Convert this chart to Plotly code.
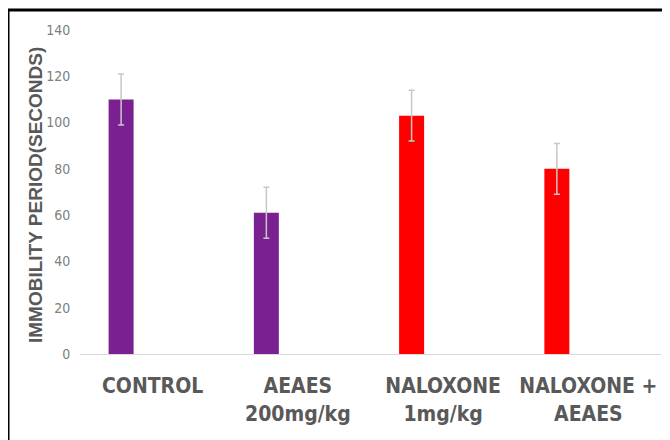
import plotly.graph_objects as go

categories = ["CONTROL", "AEAES<br>200mg/kg", "NALOXONE<br>1mg/kg", "NALOXONE +<br>AEAES"]
immobility = [110, 61, 103, 80]
errors = [11, 11, 11, 11]
bar_colors = ["#7B2090", "#7B2090", "#FF0000", "#FF0000"]
y_ticks = [0, 20, 40, 60, 80, 100, 120, 140]

W, H = 670, 440
OFF = 8  # page body margin offset
# target pixel positions in the screenshot
PL, PR, PT, PB = 80, 661, 30, 354
L, T = PL - OFF, PT - OFF
R = W - (PR - OFF)
B = H - (PB - OFF)
pw, ph = W - L - R, H - T - B

def px_x(p):
    return (p - OFF - L) / pw

def px_y(p):
    return (H - B - (p - OFF)) / ph

COND = "DejaVu Sans Condensed, Liberation Sans Narrow, Arial Narrow, sans-serif"

fig = go.Figure()
fig.add_trace(go.Bar(
    x=categories, y=immobility,
    marker=dict(color=bar_colors, line=dict(width=0)),
    width=0.172, offset=-0.303,
    error_y=dict(type="data", array=errors, visible=True,
                 color="#C8C8C8", thickness=1.5, width=3),
    showlegend=False,
))

fig.update_layout(
    width=W, height=H,
    margin=dict(l=L, r=R, t=T, b=B),
    paper_bgcolor="white", plot_bgcolor="white",
    xaxis=dict(
        type="category", range=[-0.5, 3.5], automargin=False,
        showline=True, linecolor="#D9D9D9", linewidth=1,
        showgrid=False, ticks="outside", ticklen=13, tickcolor="rgba(0,0,0,0)",
        tickfont=dict(family=COND, size=21, color="#595959", weight="bold"),
    ),
    yaxis=dict(
        range=[0, 140], tickvals=y_ticks, showgrid=False, zeroline=False,
        automargin=False,
        showline=False, ticks="outside", ticklen=6, tickcolor="rgba(0,0,0,0)",
        tickfont=dict(family=COND, size=14, color="#808080"),
    ),
    annotations=[dict(
        text="<b>IMMOBILITY PERIOD(SECONDS)</b>", textangle=-90,
        x=px_x(35), y=px_y(195), xref="paper", yref="paper",
        showarrow=False, xanchor="center", yanchor="middle",
        font=dict(family="Liberation Sans, Arial, sans-serif", size=19, color="#595959"),
    )],
    shapes=[
        dict(type="line", xref="paper", yref="paper",
             x0=px_x(8), x1=px_x(8), y0=px_y(10), y1=px_y(460),
             line=dict(color="black", width=3)),
        dict(type="line", xref="paper", yref="paper",
             x0=px_x(8), x1=px_x(690), y0=px_y(10), y1=px_y(10),
             line=dict(color="black", width=3)),
    ],
)

fig.write_html("out.html")
